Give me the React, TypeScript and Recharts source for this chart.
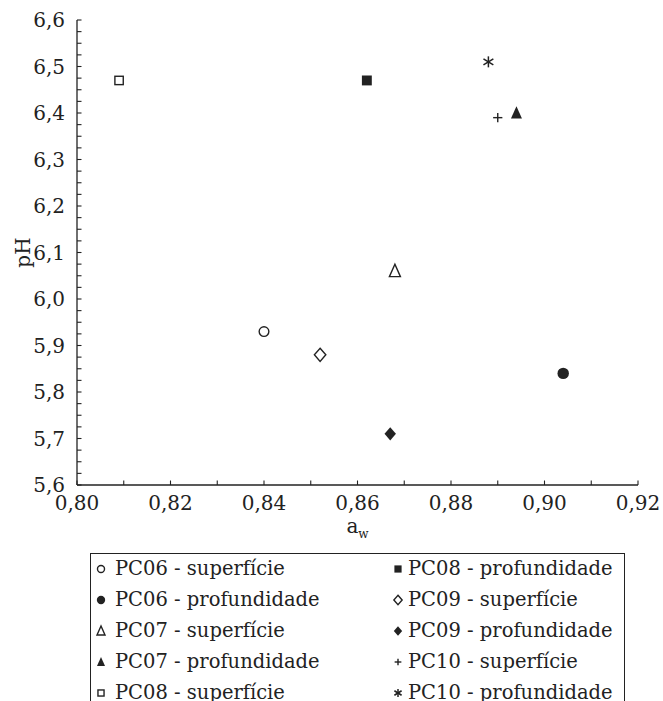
import React from 'react';
import { ScatterChart, Scatter, XAxis, YAxis, Legend } from 'recharts';

const seriesNames = [
  'PC06 - superfície',
  'PC06 - profundidade',
  'PC07 - superfície',
  'PC07 - profundidade',
  'PC08 - superfície',
  'PC08 - profundidade',
  'PC09 - superfície',
  'PC09 - profundidade',
  'PC10 - superfície',
  'PC10 - profundidade',
];
const seriesMarkers = [
  'circleOpen',
  'circleFilled',
  'triangleOpen',
  'triangleFilled',
  'squareOpen',
  'squareFilled',
  'diamondOpen',
  'diamondFilled',
  'plus',
  'asterisk',
];
const awValues = [0.84, 0.904, 0.868, 0.894, 0.809, 0.862, 0.852, 0.867, 0.89, 0.888];
const phValues = [5.93, 5.84, 6.06, 6.4, 6.47, 6.47, 5.88, 5.71, 6.39, 6.51];

const xTicks = [0.8, 0.81, 0.82, 0.83, 0.84, 0.85, 0.86, 0.87, 0.88, 0.89, 0.9, 0.91, 0.92];
const xLabelTicks = [0.8, 0.82, 0.84, 0.86, 0.88, 0.9, 0.92];
const yTicks = [
  5.6, 5.625, 5.65, 5.675, 5.7, 5.725, 5.75, 5.775, 5.8, 5.825, 5.85, 5.875,
  5.9, 5.925, 5.95, 5.975, 6.0, 6.025, 6.05, 6.075, 6.1, 6.125, 6.15, 6.175,
  6.2, 6.225, 6.25, 6.275, 6.3, 6.325, 6.35, 6.375, 6.4, 6.425, 6.45, 6.475,
  6.5, 6.525, 6.55, 6.575, 6.6,
];
const yLabelTicks = [5.6, 5.7, 5.8, 5.9, 6.0, 6.1, 6.2, 6.3, 6.4, 6.5, 6.6];

const FONT = '"DejaVu Serif", serif';
const INK = '#222';
const TICK_LEN = 4.5;
const TICK_MARGIN = 11;

const isIn = (arr: number[], v: number) => arr.some((a) => Math.abs(a - v) < 1e-6);

function Marker({ kind, cx, cy, s }: { kind: string; cx: number; cy: number; s: number }) {
  const sw = 1.4;
  switch (kind) {
    case 'circleOpen':
      return <circle cx={cx} cy={cy} r={s * 0.44} fill="#fff" stroke={INK} strokeWidth={sw} />;
    case 'circleFilled':
      return <circle cx={cx} cy={cy} r={s * 0.52} fill={INK} stroke="none" />;
    case 'triangleOpen':
    case 'triangleFilled': {
      const pts = `${cx},${cy - s * 0.62} ${cx - s * 0.5},${cy + s * 0.5} ${cx + s * 0.5},${cy + s * 0.5}`;
      return kind === 'triangleOpen' ? (
        <polygon points={pts} fill="#fff" stroke={INK} strokeWidth={sw} strokeLinejoin="miter" />
      ) : (
        <polygon points={pts} fill={INK} stroke="none" />
      );
    }
    case 'squareOpen':
      return <rect x={cx - s * 0.38} y={cy - s * 0.38} width={s * 0.76} height={s * 0.76} fill="#fff" stroke={INK} strokeWidth={sw} />;
    case 'squareFilled':
      return <rect x={cx - s * 0.45} y={cy - s * 0.45} width={s * 0.9} height={s * 0.9} fill={INK} />;
    case 'diamondOpen':
    case 'diamondFilled': {
      const pts = `${cx},${cy - s * 0.6} ${cx + s * 0.52},${cy} ${cx},${cy + s * 0.6} ${cx - s * 0.52},${cy}`;
      return kind === 'diamondOpen' ? (
        <polygon points={pts} fill="#fff" stroke={INK} strokeWidth={sw} />
      ) : (
        <polygon points={pts} fill={INK} />
      );
    }
    case 'plus':
      return (
        <g stroke={INK} strokeWidth={1.4}>
          <line x1={cx - s * 0.42} y1={cy} x2={cx + s * 0.42} y2={cy} />
          <line x1={cx} y1={cy - s * 0.42} x2={cx} y2={cy + s * 0.42} />
        </g>
      );
    case 'asterisk':
      return (
        <g stroke={INK} strokeWidth={1.5}>
          <line x1={cx} y1={cy - s * 0.5} x2={cx} y2={cy + s * 0.5} />
          <line x1={cx - s * 0.45} y1={cy - s * 0.28} x2={cx + s * 0.45} y2={cy + s * 0.28} />
          <line x1={cx - s * 0.45} y1={cy + s * 0.28} x2={cx + s * 0.45} y2={cy - s * 0.28} />
        </g>
      );
    default:
      return null;
  }
}

const XBottomTick = (props: any) => {
  const { x, y, payload } = props;
  const v = payload.value;
  const axisY = y - TICK_MARGIN;
  return (
    <g>
      <line x1={x} y1={axisY} x2={x} y2={axisY - TICK_LEN} stroke={INK} strokeWidth={1.1} />
      {isIn(xLabelTicks, v) && (
        <text x={x} y={y} dy="0.72em" textAnchor="middle" fill={INK} fontSize={20} fontFamily={FONT}>
          {v.toFixed(2).replace('.', ',')}
        </text>
      )}
    </g>
  );
};

const XTopTick = (props: any) => {
  const { x, y } = props;
  return <line x1={x} y1={y} x2={x} y2={y + TICK_LEN} stroke={INK} strokeWidth={1.1} />;
};

const YLeftTick = (props: any) => {
  const { x, y, payload } = props;
  const v = payload.value;
  const axisX = x + 12;
  return (
    <g>
      <line x1={axisX} y1={y} x2={axisX + TICK_LEN} y2={y} stroke={INK} strokeWidth={1.1} />
      {isIn(yLabelTicks, v) && (
        <text x={x} y={y} dy="0.36em" textAnchor="end" fill={INK} fontSize={20} fontFamily={FONT}>
          {v.toFixed(1).replace('.', ',')}
        </text>
      )}
    </g>
  );
};

const YRightTick = (props: any) => {
  const { x, y } = props;
  return <line x1={x} y1={y} x2={x - TICK_LEN} y2={y} stroke={INK} strokeWidth={1.1} />;
};

const AwLabel = (props: any) => {
  const vb = props.viewBox || {};
  const cx = vb.x + vb.width / 2;
  const by = vb.y + 48;
  return (
    <text x={cx} y={by} textAnchor="middle" fill={INK} fontFamily={FONT} fontSize={20}>
      a<tspan fontSize={12} dy={5}>w</tspan>
    </text>
  );
};

const PhLabel = (props: any) => {
  const vb = props.viewBox || {};
  const cy = vb.y + vb.height / 2;
  const cx = 23;
  return (
    <text
      x={cx}
      y={cy}
      transform={`rotate(-90 ${cx} ${cy})`}
      textAnchor="middle"
      dominantBaseline="central"
      fill={INK}
      fontFamily={FONT}
      fontSize={20}
    >
      pH
    </text>
  );
};

const LegendContent = () => (
  <div
    style={{
      position: 'relative',
      width: 535,
      height: 170,
      border: `1.3px solid ${INK}`,
      boxSizing: 'border-box',
      fontFamily: FONT,
      fontSize: 19.5,
      color: INK,
      background: '#fff',
    }}
  >
    {seriesNames.map((name, i) => {
      const col = i < 5 ? 0 : 1;
      const row = i % 5;
      const cyRow = 15 + row * 31;
      const mx = col === 0 ? 10 : 307;
      const tx = col === 0 ? 24 : 317;
      return (
        <div key={name}>
          <svg
            width={14}
            height={14}
            style={{ position: 'absolute', left: mx - 7, top: cyRow - 7, overflow: 'visible' }}
          >
            <Marker kind={seriesMarkers[i]} cx={7} cy={7} s={8} />
          </svg>
          <div
            style={{
              position: 'absolute',
              left: tx,
              top: cyRow - 13,
              height: 26,
              lineHeight: '26px',
              whiteSpace: 'nowrap',
            }}
          >
            {name}
          </div>
        </div>
      );
    })}
  </div>
);

export default function App() {
  const seriesData = seriesNames.map((name, i) => ({
    name,
    kind: seriesMarkers[i],
    points: [{ aw: awValues[i], ph: phValues[i] }],
  }));
  return (
    <div style={{ position: 'absolute', left: 0, top: 0, width: 663, height: 701, background: '#fff', overflow: 'hidden' }}>
      <ScatterChart width={663} height={701} margin={{ top: 20, right: 25, bottom: 156, left: 0 }}>
        <XAxis
          type="number"
          dataKey="aw"
          domain={[0.8, 0.92]}
          ticks={xTicks}
          interval={0}
          allowDataOverflow
          height={60}
          tickSize={0}
          tickMargin={TICK_MARGIN}
          tick={<XBottomTick />}
          axisLine={{ stroke: INK, strokeWidth: 1.3 }}
          tickLine={false}
          label={{ content: <AwLabel /> }}
        />
        <XAxis
          xAxisId="top"
          orientation="top"
          type="number"
          domain={[0.8, 0.92]}
          ticks={xTicks}
          interval={0}
          allowDataOverflow
          height={0}
          tickSize={0}
          tickMargin={0}
          tick={<XTopTick />}
          axisLine={{ stroke: INK, strokeWidth: 1.3 }}
          tickLine={false}
        />
        <YAxis
          type="number"
          dataKey="ph"
          domain={[5.6, 6.6]}
          ticks={yTicks}
          interval={0}
          allowDataOverflow
          width={77}
          tickSize={0}
          tickMargin={12}
          tick={<YLeftTick />}
          axisLine={{ stroke: INK, strokeWidth: 1.3 }}
          tickLine={false}
          label={{ content: <PhLabel /> }}
        />
        <YAxis
          yAxisId="right"
          orientation="right"
          type="number"
          domain={[5.6, 6.6]}
          ticks={yTicks}
          interval={0}
          allowDataOverflow
          width={0}
          tickSize={0}
          tickMargin={0}
          tick={<YRightTick />}
          axisLine={{ stroke: INK, strokeWidth: 1.3 }}
          tickLine={false}
        />
        {seriesData.map((s) => (
          <Scatter
            key={s.name}
            name={s.name}
            data={s.points}
            fill={INK}
            isAnimationActive={false}
            shape={(p: any) => <Marker kind={s.kind} cx={p.cx} cy={p.cy} s={11} />}
          />
        ))}
        <Legend
          layout="vertical"
          align="center"
          verticalAlign="middle"
          content={<LegendContent />}
          wrapperStyle={{ left: 90, top: 553, width: 535, height: 170, bottom: 'auto', right: 'auto' }}
        />
      </ScatterChart>
    </div>
  );
}
